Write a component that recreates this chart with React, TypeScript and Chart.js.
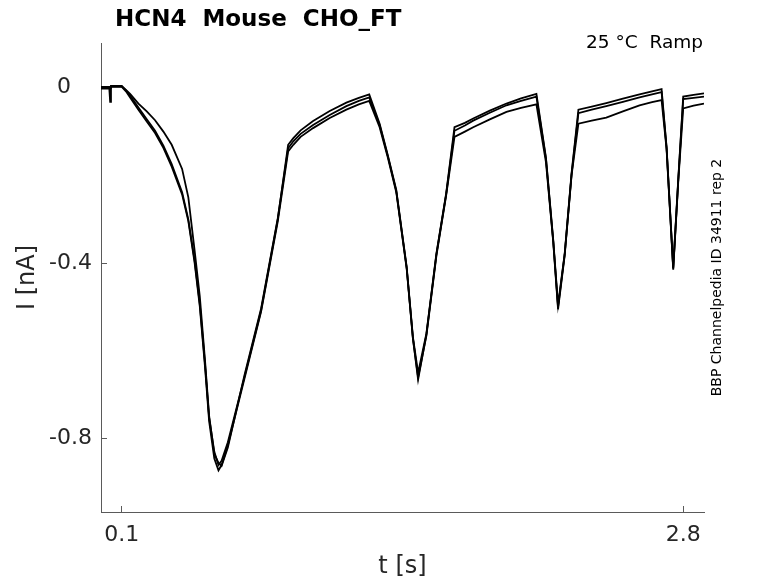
import { useEffect, useRef } from "react";
import { Chart, registerables } from "chart.js";

Chart.register(...registerables);

// sample times in s, shared by all three repetitions
const times = [
  0, 0.04, 0.044, 0.048, 0.1, 0.12, 0.14, 0.18, 0.22, 0.26, 0.3, 0.34, 0.39, 0.42, 0.45, 0.475, 0.5, 0.52,
  0.545, 0.565, 0.58, 0.61, 0.69, 0.77, 0.85, 0.9, 0.925, 0.96, 1.02, 1.1, 1.18, 1.24, 1.29, 1.34, 1.38,
  1.42, 1.47, 1.5, 1.525, 1.565, 1.613, 1.66, 1.7, 1.75, 1.79, 1.87, 1.95, 2.02, 2.094, 2.14, 2.175,
  2.198, 2.23, 2.263, 2.296, 2.36, 2.43, 2.51, 2.59, 2.65, 2.696, 2.72, 2.752, 2.776, 2.8, 2.85, 2.9,
];

// current in nA
const traceA = [
  -0.002, -0.002, -0.032, 0.004, 0.004, -0.006, -0.018, -0.045, -0.072, -0.098, -0.132, -0.174, -0.238,
  -0.3, -0.393, -0.492, -0.628, -0.752, -0.83, -0.86, -0.85, -0.808, -0.659, -0.507, -0.3, -0.13,
  -0.115, -0.097, -0.076, -0.053, -0.034, -0.023, -0.015, -0.082, -0.155, -0.233, -0.408, -0.568, -0.65,
  -0.56, -0.378, -0.241, -0.09, -0.08, -0.07, -0.052, -0.036, -0.024, -0.014, -0.16, -0.347, -0.495,
  -0.378, -0.195, -0.05, -0.043, -0.035, -0.025, -0.015, -0.008, -0.003, -0.135, -0.41, -0.21, -0.02,
  -0.016, -0.013,
];
const traceB = [
  0, 0, 0, 0.002, 0.002, -0.008, -0.022, -0.05, -0.077, -0.103, -0.137, -0.18, -0.243, -0.304, -0.398,
  -0.498, -0.635, -0.76, -0.845, -0.872, -0.86, -0.815, -0.663, -0.51, -0.305, -0.145, -0.13, -0.112,
  -0.092, -0.069, -0.05, -0.038, -0.03, -0.09, -0.16, -0.238, -0.412, -0.572, -0.66, -0.565, -0.383,
  -0.245, -0.112, -0.1, -0.09, -0.072, -0.055, -0.046, -0.038, -0.17, -0.352, -0.505, -0.382, -0.2,
  -0.082, -0.075, -0.068, -0.054, -0.04, -0.033, -0.028, -0.14, -0.415, -0.215, -0.047, -0.041, -0.036,
];
const traceC = [
  0.002, 0.002, 0.002, 0.003, 0.003, -0.005, -0.014, -0.036, -0.054, -0.074, -0.1, -0.13, -0.185, -0.25,
  -0.37, -0.475, -0.62, -0.748, -0.835, -0.855, -0.862, -0.82, -0.655, -0.503, -0.298, -0.138, -0.122,
  -0.105, -0.085, -0.062, -0.042, -0.03, -0.022, -0.085, -0.157, -0.235, -0.41, -0.57, -0.665, -0.562,
  -0.38, -0.243, -0.098, -0.086, -0.075, -0.057, -0.04, -0.03, -0.02, -0.162, -0.35, -0.5, -0.38, -0.198,
  -0.058, -0.05, -0.042, -0.032, -0.022, -0.015, -0.01, -0.137, -0.412, -0.212, -0.026, -0.023, -0.02,
];

const xTicks = [0.1, 2.8];
const yTicks = [0, -0.4, -0.8];

const title = "HCN4  Mouse  CHO_FT";
const condition = "25 °C  Ramp";
const source = "BBP Channelpedia ID 34911 rep 2";

const axisColor = "#5a5a5a";
const textColor = "#262626";

const textPlugin = {
  id: "traceText",
  afterDraw(chart: Chart) {
    const { ctx, chartArea } = chart;
    ctx.save();
    ctx.fillStyle = "#000";
    ctx.textBaseline = "alphabetic";
    ctx.textAlign = "left";
    ctx.font = "bold 23px 'DejaVu Sans'";
    ctx.fillText(title, chartArea.left + 14, chartArea.top - 17);

    ctx.font = "18.5px 'DejaVu Sans'";
    ctx.textAlign = "right";
    ctx.fillText(condition, chartArea.right - 1, chartArea.top + 5);

    ctx.font = "14px 'DejaVu Sans'";
    ctx.textAlign = "center";
    ctx.textBaseline = "middle";
    ctx.translate(chartArea.right + 13, (chartArea.top + chartArea.bottom) / 2);
    ctx.rotate(-Math.PI / 2);
    ctx.fillText(source, 0, 0);
    ctx.restore();
  },
};

export default function App() {
  const canvasRef = useRef<HTMLCanvasElement>(null);

  useEffect(() => {
    if (!canvasRef.current) return;
    const traces = [traceA, traceB, traceC];
    const chart = new Chart(canvasRef.current, {
      type: "line",
      data: {
        datasets: traces.map((trace) => ({
          data: times.map((t, i) => ({ x: t, y: trace[i] })),
          borderColor: "#000",
          borderWidth: 1.8,
          pointRadius: 0,
          tension: 0,
          fill: false,
        })),
      },
      options: {
        responsive: true,
        maintainAspectRatio: false,
        animation: false,
        layout: { padding: { left: 0, right: 74, top: 43, bottom: 0 } },
        scales: {
          x: {
            type: "linear",
            min: 0,
            max: 2.9,
            afterBuildTicks: (scale) => {
              scale.ticks = xTicks.map((v) => ({ value: v }));
            },
            afterFit: (scale) => {
              scale.height = 71;
            },
            ticks: {
              color: textColor,
              padding: 16,
              font: { family: "'DejaVu Sans'", size: 22 },
              callback: (v) => String(v),
            },
            grid: { drawOnChartArea: false, tickLength: -6, color: axisColor },
            border: { color: axisColor, width: 1 },
            title: {
              display: true,
              text: "t [s]",
              color: textColor,
              font: { family: "'DejaVu Sans'", size: 24 },
              padding: { top: 0, bottom: 2 },
            },
          },
          y: {
            type: "linear",
            min: -0.967,
            max: 0.102,
            afterBuildTicks: (scale) => {
              scale.ticks = yTicks.map((v) => ({ value: v }));
            },
            afterFit: (scale) => {
              scale.width = 101;
            },
            ticks: {
              color: textColor,
              padding: 15,
              font: { family: "'DejaVu Sans'", size: 22 },
              // the zero label sits under the leading digit of the others, as in the source figure
              callback: (v) => (Number(v) === 0 ? "0\u2008\u2007" : String(v)),
            },
            grid: { drawOnChartArea: false, tickLength: -6, color: axisColor },
            border: { color: axisColor, width: 1 },
            title: {
              display: true,
              text: "I [nA]",
              color: textColor,
              font: { family: "'DejaVu Sans'", size: 24 },
              padding: { top: 13, bottom: 0 },
            },
          },
        },
        plugins: { legend: { display: false }, tooltip: { enabled: false } },
      },
      plugins: [textPlugin],
    });
    return () => chart.destroy();
  }, []);

  return (
    <div style={{ position: "absolute", left: 0, top: 0, width: 778, height: 583, background: "#fff" }}>
      <canvas ref={canvasRef} />
    </div>
  );
}
